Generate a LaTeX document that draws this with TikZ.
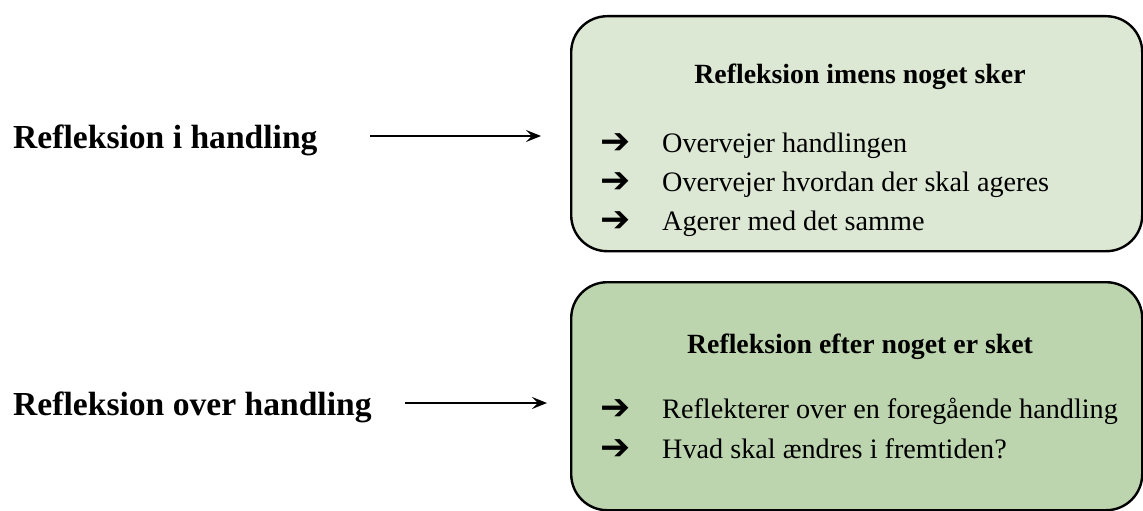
\documentclass[tikz,border=0pt]{standalone}
\usepackage{fontspec}
\setmainfont{Liberation Serif}
\newfontfamily\symfont{DejaVu Sans}
\usetikzlibrary{arrows.meta}
\definecolor{paleGreen}{HTML}{DCE8D4}
\definecolor{sageGreen}{HTML}{BDD5AF}
\tikzset{
  panel/.style={draw=black, line width=2.4pt, rounded corners=36pt, anchor=north west,
    minimum width=571pt, inner sep=0pt},
  sidelabel/.style={anchor=base west, inner sep=0pt,
    font=\fontsize{33.6}{40}\selectfont\bfseries},
  paneltitle/.style={anchor=base, inner sep=0pt,
    font=\fontsize{27.8}{34}\selectfont\bfseries},
  bullettext/.style={anchor=base west, inner sep=0pt,
    font=\fontsize{28.2}{34}\selectfont},
  bulletmark/.style={anchor=center, inner sep=0pt,
    font=\fontsize{36}{40}\selectfont\symfont\bfseries},
  pointer/.style={line width=1.8pt, -{Stealth[length=15pt,width=12pt,inset=6pt]}}
}
\begin{document}
\begin{tikzpicture}[x=1pt,y=-1pt]
\useasboundingbox (0,0) rectangle (1143,511);

% upper panel: reflection while acting
\node[panel, fill=paleGreen, minimum height=235pt] (box1) at (570,15) {};
\node[paneltitle] (t1) at (860,84) {Refleksion imens noget sker};
\node[bulletmark] (m11) at (616,144) {➔};
\node[bullettext] (b11) at (662,152) {Overvejer handlingen};
\node[bulletmark] (m12) at (616,183) {➔};
\node[bullettext] (b12) at (662,191) {Overvejer hvordan der skal ageres};
\node[bulletmark] (m13) at (616,222) {➔};
\node[bullettext] (b13) at (662,230) {Agerer med det samme};

% lower panel: reflection after acting
\node[panel, fill=sageGreen, minimum height=228pt] (box2) at (570,281) {};
\node[paneltitle] (t2) at (860,353) {Refleksion efter noget er sket};
\node[bulletmark] (m21) at (616,410) {➔};
\node[bullettext] (b21) at (662,418) {Reflekterer over en foregående handling};
\node[bulletmark] (m22) at (616,450) {➔};
\node[bullettext] (b22) at (662,458) {Hvad skal ændres i fremtiden?};

% left-hand labels
\node[sidelabel] (lab1) at (13,148) {Refleksion i handling};
\node[sidelabel] (lab2) at (13,415) {Refleksion over handling};

% pointers from labels towards panels
\coordinate (p1s) at (370,136);
\coordinate (p1e) at (541,136);
\coordinate (p2s) at (405,403);
\coordinate (p2e) at (547,403);
\draw[pointer] (p1s) -- (p1e);
\draw[pointer] (p2s) -- (p2e);
\end{tikzpicture}
\end{document}
